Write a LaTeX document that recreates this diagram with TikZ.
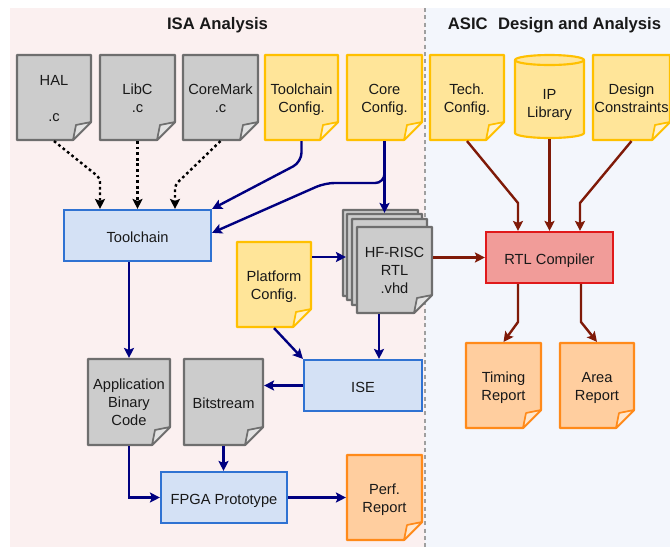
\documentclass[tikz,border=0pt]{standalone}
\usepackage{fontspec}
\setmainfont{Liberation Sans}
\usetikzlibrary{arrows.meta,fit,calc}
\definecolor{pinkbg}{HTML}{FBF0F0}
\definecolor{bluebg}{HTML}{F3F6FC}
\definecolor{docgray}{HTML}{CCCCCC}
\definecolor{docgrayd}{HTML}{6E6E6E}
\definecolor{foldgray}{HTML}{E2E2E2}
\definecolor{docyel}{HTML}{FFE599}
\definecolor{docyeld}{HTML}{FFC000}
\definecolor{foldyel}{HTML}{FFF2CC}
\definecolor{docor}{HTML}{FFCE9F}
\definecolor{docord}{HTML}{FF8A1A}
\definecolor{foldor}{HTML}{FFE6CC}
\definecolor{procfill}{HTML}{D4E1F5}
\definecolor{procdraw}{HTML}{2F72D2}
\definecolor{rtlfill}{HTML}{F19C99}
\definecolor{rtldraw}{HTML}{E0191B}
\definecolor{navyline}{HTML}{000080}
\definecolor{redline}{HTML}{7F1A08}
\newcommand\fd{18}
\tikzset{
  docfont/.style={font=\fontsize{11}{13.5}\selectfont},
  textlbl/.style={docfont, align=center, inner sep=0pt, text=black!90, yshift=-2.5pt,
    execute at begin node=\strut, execute at end node=\strut},
  graydoc/.style={fill=docgray, draw=docgrayd, line width=1.6pt, line join=round},
  grayfold/.style={fill=foldgray, draw=docgrayd, line width=1.3pt, line join=round},
  yeldoc/.style={fill=docyel, draw=docyeld, line width=1.6pt, line join=round},
  yelfold/.style={fill=foldyel, draw=docyeld, line width=1.3pt, line join=round},
  ordoc/.style={fill=docor, draw=docord, line width=1.6pt, line join=round},
  orfold/.style={fill=foldor, draw=docord, line width=1.3pt, line join=round},
  procbox/.style={fill=procfill, draw=procdraw, line width=1.6pt, inner sep=0pt},
  rtlbox/.style={fill=rtlfill, draw=rtldraw, line width=1.6pt, inner sep=0pt},
  navyarrow/.style={draw=navyline, line width=1.8pt, -{Stealth[length=7.5pt,width=7.5pt,inset=1.5pt]}},
  redarrow/.style={draw=redline, line width=1.8pt, -{Stealth[length=7.5pt,width=7.5pt,inset=1.5pt]}},
  dotarrow/.style={draw=black, line width=1.8pt, dash pattern=on 2pt off 2.2pt, -{Stealth[length=7.5pt,width=7.5pt,inset=1.5pt]}},
  titletext/.style={font=\fontsize{12.5}{14}\selectfont\bfseries, text=black!90},
}
\newcommand\docnode[7]{%
  \path[#2doc] (#3,#4) -- (#5,#4) -- (#5,{#6-\fd}) -- ({#5-\fd},#6) -- (#3,#6) -- cycle;
  \path[#2fold] ({#5-\fd},#6) -- ({#5-\fd+3},{#6-\fd+3}) .. controls ({#5-8},{#6-\fd+1}) .. (#5,{#6-\fd}) -- cycle;
  \node[fit={(#3,#4)(#5,#6)}, inner sep=0pt, outer sep=0.8pt] (#1) {};
  \node[textlbl] (#1-t) at (#1.center) {#7};
}
\newcommand\boxnode[7]{%
  \node[#2, fit={(#3,#4)(#5,#6)}] (#1) {};
  \node[textlbl] (#1-t) at (#1.center) {#7};
}
\begin{document}
\begin{tikzpicture}[x=0.75pt,y=-0.75pt]
\useasboundingbox (0,0) rectangle (670,547);
% backgrounds
\fill[pinkbg] (10,8) rectangle (425,547);
\fill[bluebg] (425,8) rectangle (670,547);
\draw[gray!75, line width=1.2pt, dash pattern=on 3pt off 2.5pt] (425,8) -- (425,547);
\node[titletext] (t1) at (217.5,25) {ISA Analysis};
\node[titletext] (t2) at (554.5,25) {ASIC\hspace{0.35em} Design and Analysis};
% top row documents
\docnode{hal}{gray}{17}{55}{91}{140}{HAL\\\mbox{}\\.c}
\docnode{libc}{gray}{100}{55}{175}{140}{LibC\\.c}
\docnode{cm}{gray}{183}{55}{258}{140}{CoreMark\\.c}
\docnode{tcc}{yel}{265}{55}{338}{140}{Toolchain\\Config.}
\docnode{ccfg}{yel}{347}{55}{422}{140}{Core\\Config.}
\docnode{tech}{yel}{430}{55}{504}{140}{Tech.\\Config.}
\docnode{dc}{yel}{593}{55}{670}{140}{Design\\Constraints}
% IP library cylinder
\path[fill=docyel, draw=docyeld, line width=1.6pt, line join=round]
  (515,60) -- (515,133) arc[start angle=180,end angle=360,x radius=25.875pt,y radius=3.75pt]
  -- (584,60) arc[start angle=0,end angle=180,x radius=25.875pt,y radius=3.75pt] -- cycle;
\draw[draw=docyeld, line width=1.6pt] (515,60) arc[start angle=180,end angle=360,x radius=25.875pt,y radius=3.75pt];
\node[fit={(515,55)(584,138)}, inner sep=0pt, outer sep=0.8pt] (ip) {};
\node[textlbl] (ip-t) at (549.5,103) {IP\\Library};
% middle
\boxnode{tc}{procbox}{64}{210}{211}{261}{Toolchain}
\docnode{plat}{yel}{237}{242}{311}{327}{Platform\\Config.}
\docnode{p1}{gray}{343}{210}{418}{296}{}
\docnode{p2}{gray}{347}{214}{422}{300}{}
\docnode{p3}{gray}{352}{219}{427}{305}{}
\docnode{hf}{gray}{357}{227}{432}{313}{HF-RISC\\RTL\\.vhd}
\boxnode{rtl}{rtlbox}{486}{232}{613}{283}{RTL Compiler}
\docnode{tim}{or}{466}{343}{541}{428}{Timing\\Report}
\docnode{area}{or}{560}{343}{634}{428}{Area\\Report}
% bottom
\docnode{app}{gray}{88}{359}{170}{445}{Application\\Binary\\Code}
\docnode{bit}{gray}{184}{359}{263}{445}{Bitstream}
\boxnode{ise}{procbox}{304}{360}{422}{411}{ISE}
\boxnode{fpga}{procbox}{161}{472}{287}{523}{FPGA Prototype}
\docnode{perf}{or}{347}{455}{422}{540}{Perf.\\Report}
% connectors
\draw[dotarrow, rounded corners=3pt] (hal.south) -- (100,178) -- (100,0 |- tc.north);
\draw[dotarrow] (libc.south) -- (libc.south |- tc.north);
\draw[dotarrow, rounded corners=3pt] (cm.south) -- (175,185) -- (175,0 |- tc.north);
\draw[navyarrow, rounded corners=7pt] (tcc.south) -- (tcc.south |- 0,162) -- (tc.north east);
\draw[navyarrow, rounded corners=7pt] (ccfg.south) -- (ccfg.south |- 0,183) -- (325,183) -- ([yshift=2pt]tc.east);
\draw[navyarrow] (ccfg.south) -- (ccfg.south |- p2.north);
\draw[navyarrow] (plat.east |- p2.west) -- (p2.west);
\draw[navyarrow] (plat.south) -- (ise.north west);
\draw[navyarrow] (379,0 |- hf.south) -- (379,0 |- ise.north);
\draw[redarrow] (hf.east |- rtl.west) -- (rtl.west);
\draw[navyarrow] (app.north |- tc.south) -- (app.north);
\draw[navyarrow] (ise.west) -- (bit.east |- ise.west);
\draw[navyarrow] (bit.south) -- (bit.south |- fpga.north);
\draw[navyarrow] (app.south) -- (app.south |- fpga.west) -- (fpga.west);
\draw[navyarrow] (fpga.east) -- (perf.west |- fpga.east);
\draw[redarrow] (tech.south) -- (518,203) -- (518,0 |- rtl.north);
\draw[redarrow] (ip.south) -- (ip.south |- rtl.north);
\draw[redarrow] (dc.south) -- (580,203) -- (580,0 |- rtl.north);
\draw[redarrow] (518,0 |- rtl.south) -- (518,322) -- (tim.north);
\draw[redarrow] (581,0 |- rtl.south) -- (581,322) -- (area.north);
\end{tikzpicture}
\end{document}
